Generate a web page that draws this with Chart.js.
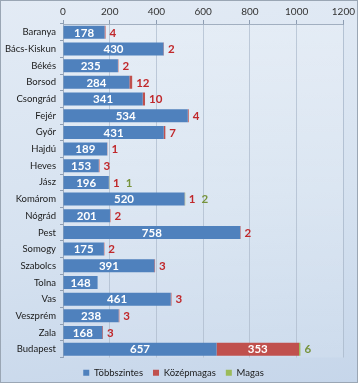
<!DOCTYPE html>
<html><head><meta charset="utf-8">
<script src="https://cdn.jsdelivr.net/npm/chart.js@4"></script>
<style>
html,body{margin:0;padding:0;background:#fff;}
body{width:358px;height:383px;overflow:hidden;}
#wrap{position:relative;width:356px;height:381px;border:1px solid #9aa6b4;background:linear-gradient(170deg,#e3ebf5 0%,#d6e2f0 55%,#c6d6ea 100%);}
canvas{display:block;}
</style></head><body><div id="wrap"><canvas id="c" width="356" height="381"></canvas></div>
<script>
const categories = ['Baranya','Bács-Kiskun','Békés','Borsod','Csongrád','Fejér','Győr','Hajdú','Heves','Jász','Komárom','Nógrád','Pest','Somogy','Szabolcs','Tolna','Vas','Veszprém','Zala','Budapest'];
const tobbszintes = [178,430,235,284,341,534,431,189,153,196,520,201,758,175,391,148,461,238,168,657];
const kozepmagas = [4,2,2,12,10,4,7,1,3,1,1,2,2,2,3,0,3,3,3,353];
const magas = [0,0,0,0,0,0,0,0,0,1,2,0,0,0,0,0,0,0,0,6];
const seriesNames = ['Többszintes','Középmagas','Magas'];
const xMin = 0, xMax = 1200, xStep = 200;

const FONT = 'Lato, "Open Sans", sans-serif';
const PAD = {left: 1, right: 12, top: 4, bottom: -5};
const LEG_PAD = 10;
const LEG_ROW_Y = 372;   // canvas y of legend row centre

const layoutPlugin = {
  id: 'fixLayout',
  afterLayout(chart) {
    const L = chart.legend;
    if (L) {
      const dy = (LEG_ROW_Y - 5 - LEG_PAD) - L.top;
      L.top += dy; L.bottom += dy;
    }
  }
};

const labelPlugin = {
  id: 'vals',
  beforeDatasetsDraw(chart) {
    const {ctx, chartArea: a} = chart;
    ctx.save();
    const g = ctx.createLinearGradient(0, a.top, 0, a.bottom);
    g.addColorStop(0, 'rgba(255,255,255,0.18)');
    g.addColorStop(1, 'rgba(255,255,255,0.10)');
    ctx.fillStyle = g;
    ctx.fillRect(a.left, a.top, a.right - a.left, a.bottom - a.top);
    ctx.restore();
  },
  afterDatasetsDraw(chart) {
    const ctx = chart.ctx;
    const m0 = chart.getDatasetMeta(0).data;
    const m1 = chart.getDatasetMeta(1).data;
    const m2 = chart.getDatasetMeta(2).data;
    ctx.save();
    ctx.textBaseline = 'middle';
    ctx.font = 'bold 11.5px ' + FONT;
    categories.forEach((c, i) => {
      const b = m0[i];
      ctx.fillStyle = '#ffffff';
      ctx.textAlign = 'center';
      ctx.fillText(String(tobbszintes[i]), (b.x + b.base) / 2, b.y + 0.5);
      let end = m1[i].x + 4;
      if (kozepmagas[i] > 0) {
        const r = m1[i];
        const txt = String(kozepmagas[i]);
        if (r.x - r.base > 30) {
          ctx.fillStyle = '#ffffff';
          ctx.textAlign = 'center';
          ctx.fillText(txt, (r.x + r.base) / 2, r.y + 0.5);
          end = r.x + 4;
        } else {
          ctx.fillStyle = '#c0282b';
          ctx.textAlign = 'left';
          ctx.fillText(txt, r.x + 4, r.y + 0.5);
          end = r.x + 4 + ctx.measureText(txt).width + 6;
        }
      }
      if (magas[i] > 0) {
        const gEl = m2[i];
        ctx.fillStyle = '#77933c';
        ctx.textAlign = 'left';
        ctx.fillText(String(magas[i]), Math.max(gEl.x + 4, end), gEl.y + 0.5);
      }
    });
    ctx.restore();
  }
};

new Chart(document.getElementById('c'), {
  type: 'bar',
  data: {
    labels: categories,
    datasets: [
      {label: seriesNames[0], data: tobbszintes, backgroundColor: '#4f81bd'},
      {label: seriesNames[1], data: kozepmagas, backgroundColor: '#c0504d'},
      {label: seriesNames[2], data: magas, backgroundColor: '#9bbb59'}
    ]
  },
  options: {
    indexAxis: 'y',
    responsive: false,
    animation: false,
    devicePixelRatio: 1,
    layout: {padding: PAD},
    datasets: {bar: {categoryPercentage: 0.78, barPercentage: 1, borderWidth: 0}},
    scales: {
      x: {
        position: 'top', stacked: true, min: xMin, max: xMax,
        ticks: {stepSize: xStep, color: '#333', font: {family: FONT, size: 10}, padding: 2, callback: v => String(v)},
        grid: {color: '#aebdd0', tickLength: 4, tickColor: '#8d9db2'},
        border: {color: '#8d9db2'},
        afterFit(s) { s.height = 23 - PAD.top; }
      },
      y: {
        stacked: true,
        ticks: {color: '#1a1a1a', font: {family: FONT, size: 9.5}, padding: 4, autoSkip: false},
        grid: {drawOnChartArea: false, offset: true, tickLength: 3, tickColor: '#8d9db2'},
        border: {color: '#8d9db2'},
        afterFit(s) { s.width = 62 - PAD.left; }
      }
    },
    plugins: {
      legend: {
        position: 'bottom',
        labels: {boxWidth: 6, boxHeight: 6, padding: LEG_PAD, color: '#1a1a1a', font: {family: FONT, size: 9.5}}
      },
      tooltip: {enabled: false}
    }
  },
  plugins: [labelPlugin, layoutPlugin]
});
</script>
</body></html>
